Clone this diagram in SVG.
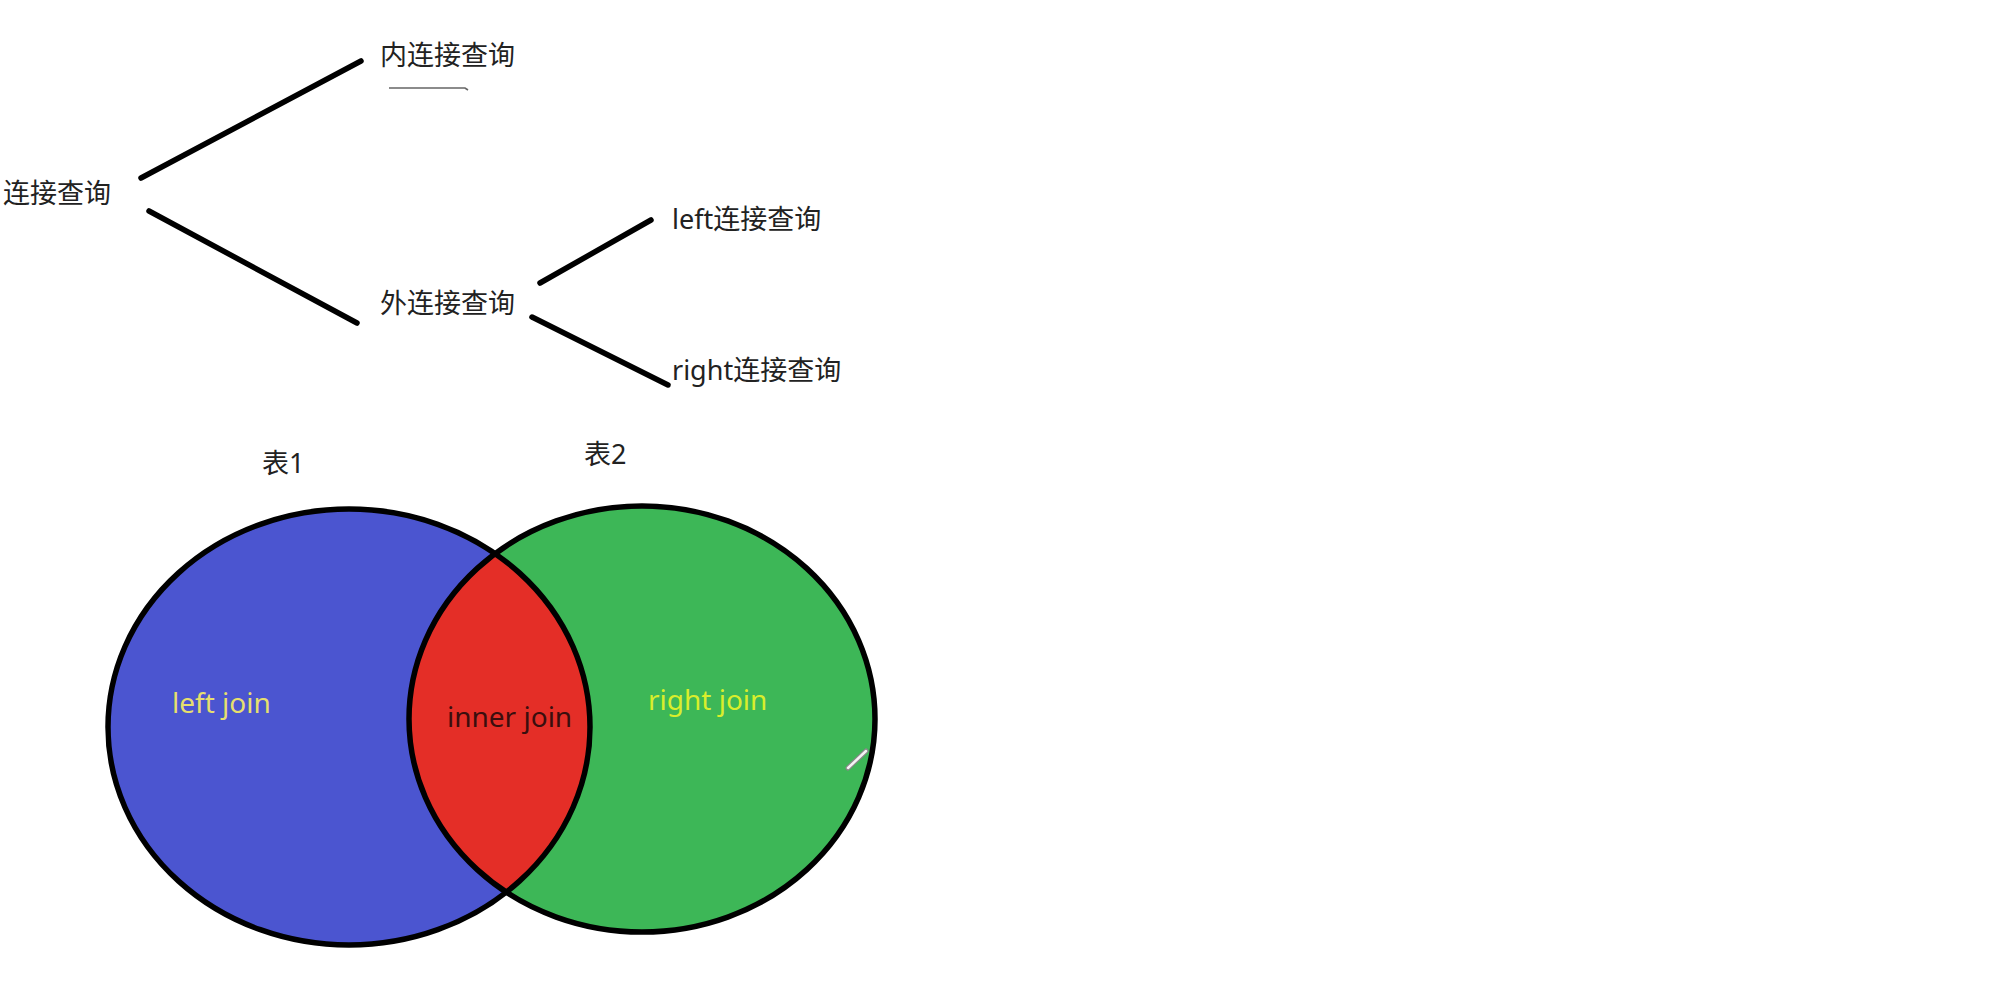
<svg xmlns="http://www.w3.org/2000/svg" width="2000" height="990" viewBox="0 0 2000 990">
<style>
.cjk{font-family:"Noto Sans","Noto Sans CJK SC",sans-serif;font-size:27px;fill:#222;}
.lbl{font-family:"Noto Sans","Noto Sans CJK SC",sans-serif;font-size:28px;}
.conn{stroke:#000;stroke-width:5.5;stroke-linecap:round;fill:none;}
.edge{fill:none;stroke:#000;stroke-width:5.5;}
</style>
<defs>
<clipPath id="clipBlue"><ellipse cx="349" cy="727" rx="241" ry="218"/></clipPath>
</defs>
<rect width="2000" height="990" fill="#fff"/>
<g id="connectors">
<line class="conn" x1="141" y1="178" x2="361" y2="61"/>
<line class="conn" x1="149" y1="211" x2="357" y2="323"/>
<line class="conn" x1="540" y1="283" x2="651" y2="220"/>
<line class="conn" x1="532" y1="317" x2="668" y2="385"/>
</g>
<g id="node-root"><text class="cjk" x="3" y="203">连接查询</text></g>
<g id="node-inner">
<text class="cjk" x="380" y="65">内连接查询</text>
<path d="M389 88 L465 88 L468 90" fill="none" stroke="#666" stroke-width="1.6"/>
</g>
<g id="node-outer"><text class="cjk" x="380" y="313">外连接查询</text></g>
<g id="node-left"><text class="cjk" x="672" y="229">left连接查询</text></g>
<g id="node-right"><text class="cjk" x="672" y="380">right连接查询</text></g>
<g id="venn">
<g id="table1"><text class="cjk" x="262" y="473">表1</text></g>
<g id="table2"><text class="cjk" x="584" y="464">表2</text></g>
<ellipse cx="349" cy="727" rx="241" ry="218" fill="#4B55D0"/>
<ellipse cx="642" cy="719" rx="233" ry="213" fill="#3DB757"/>
<ellipse cx="642" cy="719" rx="233" ry="213" fill="#E42E27" clip-path="url(#clipBlue)"/>
<ellipse class="edge" cx="349" cy="727" rx="241" ry="218"/>
<ellipse class="edge" cx="642" cy="719" rx="233" ry="213"/>
<text class="lbl" x="172" y="713" fill="#E6DF6E">left join</text>
<text class="lbl" x="447" y="727" fill="#3A0E0E">inner join</text>
<text class="lbl" x="648" y="710" fill="#D9EE2C">right join</text>
<line x1="848" y1="768" x2="866" y2="751" stroke="#888" stroke-width="5" stroke-linecap="round"/>
<line x1="848" y1="768" x2="866" y2="751" stroke="#f4f4f4" stroke-width="2.5" stroke-linecap="round"/>
</g>
</svg>
